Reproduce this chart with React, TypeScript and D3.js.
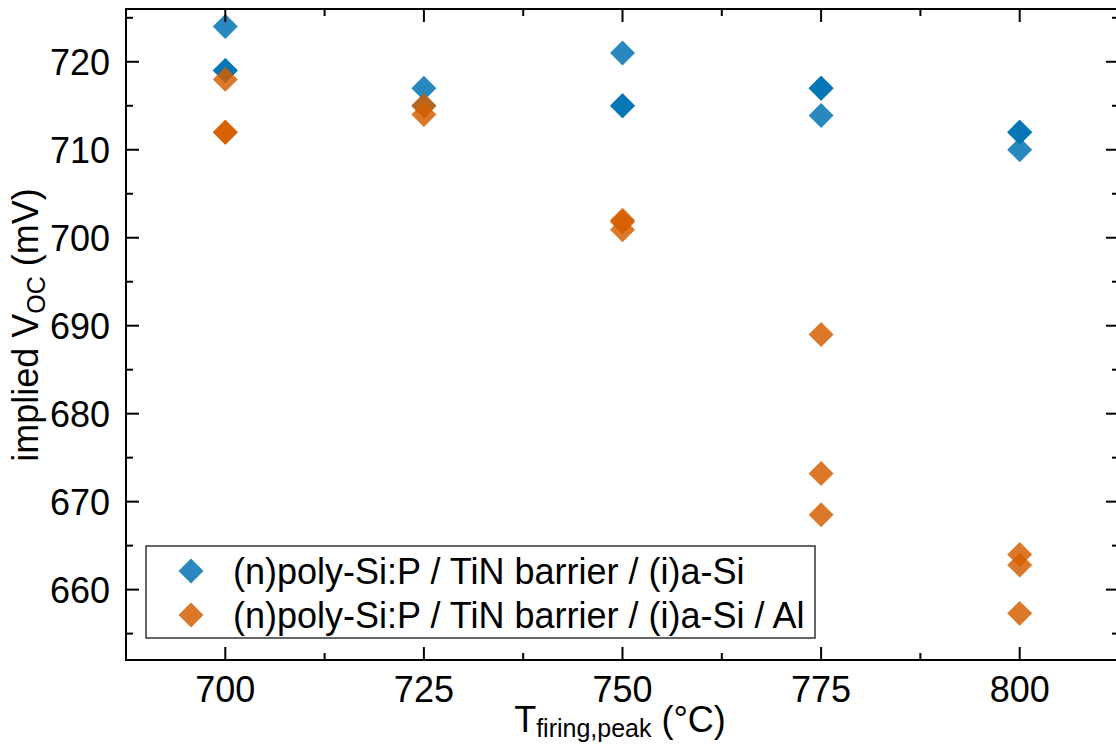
import React from "react";
import * as d3 from "d3";

const xTicks = [700, 725, 750, 775, 800];
const yTicks = [660, 670, 680, 690, 700, 710, 720];
const seriesNames = [
  "(n)poly-Si:P / TiN barrier / (i)a-Si",
  "(n)poly-Si:P / TiN barrier / (i)a-Si / Al",
];
const blueT = [700, 700, 700, 725, 725, 750, 750, 750, 775, 775, 775, 800, 800, 800];
const blueV = [724, 719, 719, 717, 715, 721, 715, 715, 717, 717, 713.9, 712, 712, 710];
const orangeT = [700, 700, 700, 725, 725, 750, 750, 750, 775, 775, 775, 800, 800, 800];
const orangeV = [718, 712, 712, 715, 714, 702, 701.8, 700.9, 689, 673.2, 668.5, 664, 662.8, 657.3];
const colors = ["#0072B2", "#D55E00"];

const W = 1116, H = 744;
const left = 126, right = 1119, top = 9, bottom = 660;

export default function App() {
  const x = d3.scaleLinear().domain([687.5, 812.5]).range([left, right]);
  const y = d3.scaleLinear().domain([652, 726]).range([bottom, top]);
  const sym = d3.symbol(d3.symbolSquare, 312)();
  const xMinor = d3.range(687.5, 812.6, 12.5).filter((v) => !xTicks.includes(v));
  const yMinor = d3.range(655, 726, 10);
  const font = "Liberation Sans, Arial, sans-serif";
  const series = [
    { t: blueT, v: blueV },
    { t: orangeT, v: orangeV },
  ];
  return (
    <svg width={W} height={H} style={{ position: "absolute", left: 0, top: 0, background: "#fff" }} fontFamily={font}>
      <rect x={0} y={0} width={W} height={H} fill="#fff" />
      {series.map((s, si) =>
        s.t.map((t, i) => (
          <path key={`${si}-${i}`} d={sym!} transform={`translate(${x(t)},${y(s.v[i])}) rotate(45)`} fill={colors[si]} fillOpacity={0.84} />
        ))
      )}
      <rect x={left} y={top} width={right - left} height={bottom - top} fill="none" stroke="#000" strokeWidth={2} />
      {xTicks.map((t) => (
        <g key={`xt${t}`}>
          <line x1={x(t)} x2={x(t)} y1={bottom} y2={bottom - 13} stroke="#000" strokeWidth={2} />
          <line x1={x(t)} x2={x(t)} y1={top} y2={top + 13} stroke="#000" strokeWidth={2} />
          <text x={x(t)} y={702} fontSize={36} textAnchor="middle">{t}</text>
        </g>
      ))}
      {xMinor.map((t) => (
        <g key={`xm${t}`}>
          <line x1={x(t)} x2={x(t)} y1={bottom} y2={bottom - 7} stroke="#000" strokeWidth={2} />
          <line x1={x(t)} x2={x(t)} y1={top} y2={top + 7} stroke="#000" strokeWidth={2} />
        </g>
      ))}
      {yTicks.map((t) => (
        <g key={`yt${t}`}>
          <line x1={left} x2={left + 13} y1={y(t)} y2={y(t)} stroke="#000" strokeWidth={2} />
          <line x1={right} x2={right - 13} y1={y(t)} y2={y(t)} stroke="#000" strokeWidth={2} />
          <text x={110} y={y(t) + 13} fontSize={36} textAnchor="end">{t}</text>
        </g>
      ))}
      {yMinor.map((t) => (
        <g key={`ym${t}`}>
          <line x1={left} x2={left + 7} y1={y(t)} y2={y(t)} stroke="#000" strokeWidth={2} />
          <line x1={right} x2={right - 7} y1={y(t)} y2={y(t)} stroke="#000" strokeWidth={2} />
        </g>
      ))}
      <text x={620} y={732} fontSize={36} textAnchor="middle">
        T<tspan fontSize={25} dy={5}>firing,peak</tspan>
        <tspan dy={-5}> (°C)</tspan>
      </text>
      <text transform={`translate(38,325) rotate(-90)`} fontSize={36} textAnchor="middle">
        implied V<tspan fontSize={25} dy={7}>OC</tspan>
        <tspan dy={-7}> (mV)</tspan>
      </text>
      <rect x={146} y={546} width={669} height={92} fill="#fff" stroke="#333" strokeWidth={1.5} />
      {seriesNames.map((n, i) => (
        <g key={n}>
          <path d={sym!} transform={`translate(191,${571 + i * 44}) rotate(45)`} fill={colors[i]} fillOpacity={0.84} />
          <text x={233} y={584 + i * 44} fontSize={36}>{n}</text>
        </g>
      ))}
    </svg>
  );
}
